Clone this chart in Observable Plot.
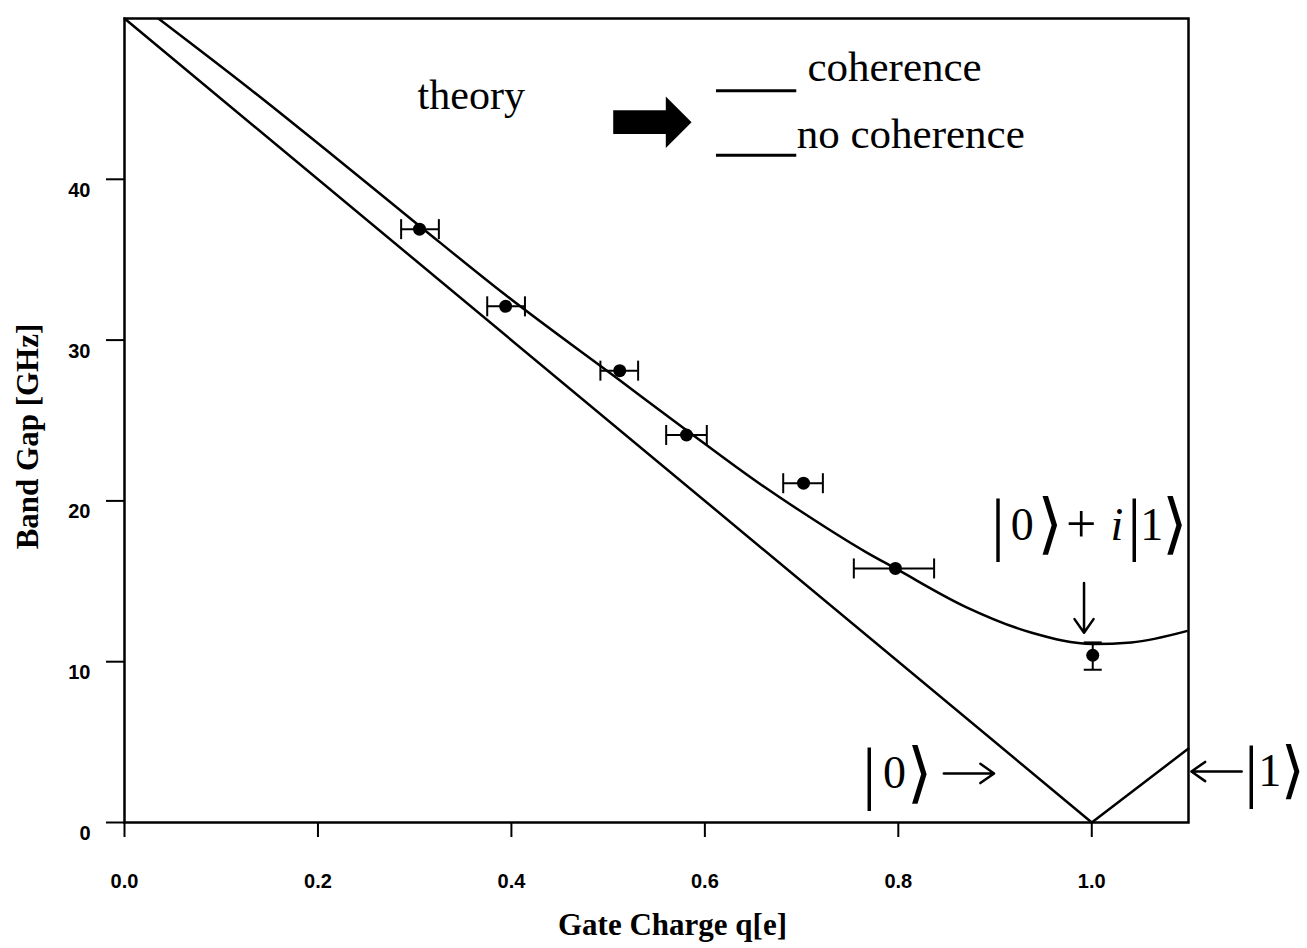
<!DOCTYPE html>
<html>
<head>
<meta charset="utf-8">
<script src="https://cdn.jsdelivr.net/npm/d3@7"></script>
<script src="https://cdn.jsdelivr.net/npm/@observablehq/plot@0.6"></script>
<style>
  html, body { margin: 0; padding: 0; background: #fff; }
  svg { display: block; overflow: visible; }
</style>
</head>
<body>
<div id="chart"></div>
<script>
// ---------- data ----------
const xTicks = [0, 0.2, 0.4, 0.6, 0.8, 1.0];
const yTicks = [0, 10, 20, 30, 40];
const xLabel = "Gate Charge q[e]";
const yLabel = "Band Gap [GHz]";

// measured points
const pointQ   = [0.305, 0.394, 0.512, 0.581, 0.702, 0.797, 1.001];
const pointGap = [36.9, 32.1, 28.1, 24.1, 21.1, 15.8, 10.4];
const qErrLo   = [0.286, 0.375, 0.492, 0.560, 0.681, 0.754, null];
const qErrHi   = [0.325, 0.414, 0.531, 0.602, 0.722, 0.837, null];
const gapErrLo = [null, null, null, null, null, null, 9.5];
const gapErrHi = [null, null, null, null, null, null, 11.2];

// theory: coherence
const cohQ   = [0.035, 0.130, 0.213, 0.305, 0.394, 0.512, 0.581, 0.656, 0.698, 0.767, 0.797, 0.870, 0.938, 1.001, 1.041, 1.098];
const cohGap = [50.0, 45.6, 41.6, 37.1, 32.8, 27.5, 24.4, 21.1, 19.4, 16.8, 15.8, 13.4, 11.8, 11.1, 11.2, 11.9];
// theory: no coherence
const noCohQ   = [0.0, 1.0, 1.1];
const noCohGap = [50.0, 0.0, 4.6];

// legend
const legendLabels = ["coherence", "no coherence"];
const legendTitle = "theory";

// ---------- build tables ----------
const points = pointQ.map((q, i) => ({q, gap: pointGap[i], qlo: qErrLo[i], qhi: qErrHi[i], glo: gapErrLo[i], ghi: gapErrHi[i]}));
const xErr = points.filter(d => d.qlo != null);
const yErr = points.filter(d => d.glo != null);
const coh = cohQ.map((q, i) => ({q, gap: cohGap[i]}));
const noCoh = noCohQ.map((q, i) => ({q, gap: noCohGap[i]}));

// legend layout (annotation anchors in data units)
const legendRows = [
  {label: legendLabels[0], x1: 0.612, x2: 0.695, ly: 45.5, tx: 0.706, ty: 47.0},
  {label: legendLabels[1], x1: 0.612, x2: 0.695, ly: 41.5, tx: 0.695, ty: 42.8}
];

// ket annotations
const ketBars = [
  {q: 0.903, gap: 18.5}, {q: 1.044, gap: 18.5},
  {q: 0.770, gap: 3.05}, {q: 1.165, gap: 3.17}
];
const ketAngles = [
  {q: 0.957, gap: 18.5, fs: 66}, {q: 1.086, gap: 18.5, fs: 66},
  {q: 0.822, gap: 3.05, fs: 66}, {q: 1.208, gap: 3.17, fs: 62}
];
const ketDigits = [
  {q: 0.928, gap: 18.5, t: "0"}, {q: 1.062, gap: 18.5, t: "1"},
  {q: 0.796, gap: 3.05, t: "0"}, {q: 1.184, gap: 3.17, t: "1"}
];
const ketPlus = [{q: 0.989, gap: 18.5, t: "+"}];
const ketItalic = [{q: 1.026, gap: 18.5, t: "i"}];
const ketArrows = [
  {x1: 0.992, x2: 0.992, y1: 14.9, y2: 11.8},
  {x1: 0.847, x2: 0.899, y1: 3.05, y2: 3.05},
  {x1: 1.155, x2: 1.103, y1: 3.17, y2: 3.17}
];

// custom bar symbols for error-bar caps
const vBar = {draw(ctx, size) { const h = Math.sqrt(size / Math.PI); ctx.moveTo(0, -h); ctx.lineTo(0, h); }};
const hBar = {draw(ctx, size) { const h = Math.sqrt(size / Math.PI); ctx.moveTo(-h, 0); ctx.lineTo(h, 0); }};

const serif = "Liberation Serif, Times New Roman, serif";
const sans = "Liberation Sans, Arial, sans-serif";

const chart = Plot.plot({
  width: 1307,
  height: 948,
  marginLeft: 124,
  marginRight: 119,
  marginTop: 18,
  marginBottom: 126,
  style: {fontFamily: sans, fontWeight: "bold", fontSize: "20px", background: "#fff", color: "#000", overflow: "visible"},
  x: {domain: [0, 1.1]},
  y: {domain: [0, 50]},
  marks: [
    Plot.frame({stroke: "black", strokeWidth: 2.5}),
    Plot.axisX({ticks: xTicks, tickSize: 15, tickPadding: 36, tickFormat: d3.format(".1f"), label: null, strokeWidth: 2, fontSize: 20, fontFamily: sans, fontWeight: "bold"}),
    Plot.axisY({ticks: yTicks, tickSize: 18, fill: "none", label: null, strokeWidth: 2}),
    Plot.axisY({ticks: yTicks, tickSize: 18, tickPadding: 16, stroke: "none", dy: 11, label: null, fontSize: 20, fontFamily: sans, fontWeight: "bold"}),
    Plot.text([xLabel], {frameAnchor: "bottom", dx: 16, dy: 112, fontFamily: serif, fontSize: 31, fontWeight: "bold", lineAnchor: "bottom"}),
    Plot.text([yLabel], {frameAnchor: "left", textAnchor: "middle", rotate: -90, dx: -96, dy: 16, fontFamily: serif, fontSize: 31, fontWeight: "bold"}),

    // theory curves
    Plot.line(noCoh, {x: "q", y: "gap", stroke: "black", strokeWidth: 2.5}),
    Plot.line(coh, {x: "q", y: "gap", stroke: "black", strokeWidth: 2.5, curve: "monotone-x", clip: true}),

    // error bars
    Plot.ruleY(xErr, {x1: "qlo", x2: "qhi", y: "gap", stroke: "black", strokeWidth: 2}),
    Plot.dot(xErr, {x: "qlo", y: "gap", symbol: vBar, r: 10, fill: "none", stroke: "black", strokeWidth: 2}),
    Plot.dot(xErr, {x: "qhi", y: "gap", symbol: vBar, r: 10, fill: "none", stroke: "black", strokeWidth: 2}),
    Plot.ruleX(yErr, {x: "q", y1: "glo", y2: "ghi", stroke: "black", strokeWidth: 2}),
    Plot.dot(yErr, {x: "q", y: "glo", symbol: hBar, r: 9, fill: "none", stroke: "black", strokeWidth: 2}),
    Plot.dot(yErr, {x: "q", y: "ghi", symbol: hBar, r: 9, fill: "none", stroke: "black", strokeWidth: 2}),
    // points
    Plot.dot(points, {x: "q", y: "gap", r: 6.5, fill: "black", stroke: "none"}),

    // legend
    Plot.text([legendTitle], {x: 0.303, y: 45.2, textAnchor: "start", fontFamily: serif, fontSize: 42, fontWeight: "normal"}),
    Plot.text(["➡"], {x: 0.544, y: 43.6, fontFamily: "DejaVu Sans", fontSize: 104, fontWeight: "normal"}),
    Plot.ruleY(legendRows, {x1: "x1", x2: "x2", y: "ly", stroke: "black", strokeWidth: 3}),
    Plot.text(legendRows, {x: "tx", y: "ty", text: "label", textAnchor: "start", fontFamily: serif, fontSize: 43, fontWeight: "normal"}),

    // ket annotations
    Plot.text(ketBars, {x: "q", y: "gap", text: () => "|", fontFamily: serif, fontSize: 70, fontWeight: "normal"}),
    Plot.text(ketAngles, {x: "q", y: "gap", text: () => "⟩", fontSize: "fs", fontFamily: "DejaVu Sans", fontWeight: "normal"}),
    Plot.text(ketDigits, {x: "q", y: "gap", text: "t", fontFamily: serif, fontSize: 46, fontWeight: "normal"}),
    Plot.text(ketPlus, {x: "q", y: "gap", text: "t", fontFamily: serif, fontSize: 54, fontWeight: "normal"}),
    Plot.text(ketItalic, {x: "q", y: "gap", text: "t", fontFamily: serif, fontSize: 46, fontWeight: "normal", fontStyle: "italic"}),
    Plot.arrow(ketArrows, {x1: "x1", y1: "y1", x2: "x2", y2: "y2", stroke: "black", strokeWidth: 2.5, headLength: 16, headAngle: 70})
  ]
});
document.getElementById("chart").appendChild(chart);
</script>
</body>
</html>
